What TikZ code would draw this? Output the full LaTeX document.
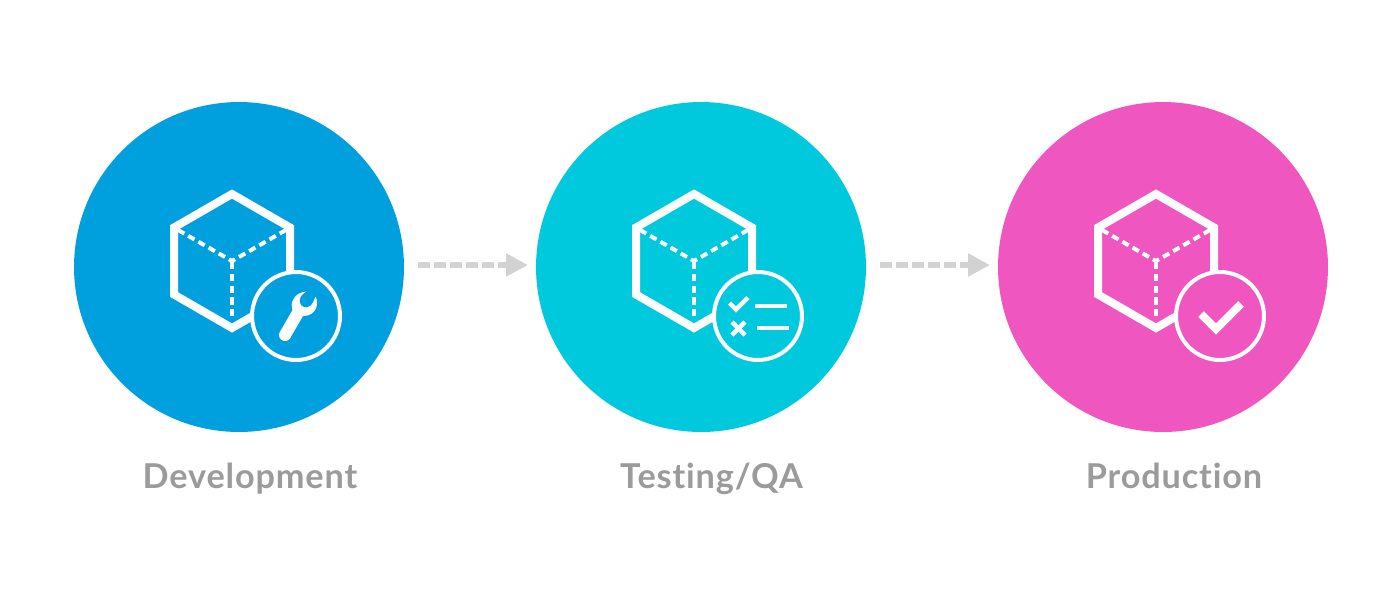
\documentclass[tikz,border=0pt]{standalone}
\usepackage{fontspec}
\setmainfont{Lato}[LetterSpace=2.5,Ligatures=NoCommon]
\usetikzlibrary{arrows.meta}
\definecolor{cblue}{HTML}{009FDE}
\definecolor{ccyan}{HTML}{00C9DE}
\definecolor{cpink}{HTML}{F056BF}
\definecolor{cgrey}{HTML}{9B9B9B}
\definecolor{carrow}{HTML}{D2D2D2}
\tikzset{
  x=0.02cm,y=-0.02cm,
  stage/.style={circle,inner sep=0pt,minimum size=6.6cm,fill=#1},
  badge/.style={circle,inner sep=0pt,minimum size=1.76cm,draw=white,line width=0.08cm,fill=#1},
  hexline/.style={draw=white,line width=0.16cm,miter limit=10},
  dashline/.style={draw=white,line width=0.08cm,dash pattern=on 0.145cm off 0.09cm},
  flow/.style={draw=carrow,line width=0.12cm,dash pattern=on 0.24cm off 0.08cm,
    -{Triangle[length=0.44cm,width=0.44cm,fill=carrow]}},
  iconline/.style={draw=white,line width=0.09cm},
  checkline/.style={draw=white,line width=0.16cm},
  stagelabel/.style={inner sep=0pt,anchor=base,text=cgrey,font=\fontsize{19.5}{23}\selectfont\bfseries},
}
\newcommand{\cube}[3]{% dx, colour, name
  \begin{scope}[xshift=#1*0.02cm]
    \draw[hexline] (232,194) -- (290,227.5) -- (290,294.5) -- (232,328) -- (174,294.5) -- (174,227.5) -- cycle;
    \draw[dashline] (232,262) -- (232,320);
    \draw[dashline] (178,230) -- (232,261);
    \draw[dashline] (286,230) -- (232,261);
    \node[badge=#2] (#3) at (296,316) {};
  \end{scope}}
\begin{document}
\begin{tikzpicture}
\useasboundingbox (0,0) rectangle (1400,600);
\fill[white] (0,0) rectangle (1400,600);
\node[stage=cblue] (dev) at (239,267) {};
\node[stage=ccyan] (test) at (701,267) {};
\node[stage=cpink] (prod) at (1163,267) {};
\cube{0}{cblue}{devbadge}
\cube{462}{ccyan}{testbadge}
\cube{924}{cpink}{prodbadge}
% wrench
\fill[white] (285,335) circle[radius=6];
\fill[white] (280,331.7) -- (292.5,310) .. controls (290,304) and (293,293) .. (306,291.5)
  .. controls (300,295) and (299,300) .. (300,303)
  .. controls (301,307) and (306,309) .. (310,306)
  .. controls (313,304) and (314,300) .. (315.5,296.5)
  .. controls (319,303) and (317,316) .. (303,316)
  -- (290,338.3) -- cycle;
% checklist
\draw[iconline] (729.5,303) -- (736,309.5) -- (748,297.5);
\draw[iconline] (732,322) -- (745,335);
\draw[iconline] (745,322) -- (732,335);
\draw[iconline] (755,306) -- (787,306);
\draw[iconline] (757,328) -- (789,328);
% check
\draw[checkline] (1201,314) -- (1216,329) -- (1241,304);
% arrows
\coordinate (a1s) at (418,265); \coordinate (a1e) at (528,265);
\coordinate (a2s) at (880,265); \coordinate (a2e) at (990,265);
\draw[flow] (a1s) -- (a1e);
\draw[flow] (a2s) -- (a2e);
% labels
\node[stagelabel] (l1) at (250,488) {Development};
\node[stagelabel] (l2) at (711.5,488) {Testing/QA};
\node[stagelabel] (l3) at (1174,488) {Production};
\end{tikzpicture}
\end{document}
